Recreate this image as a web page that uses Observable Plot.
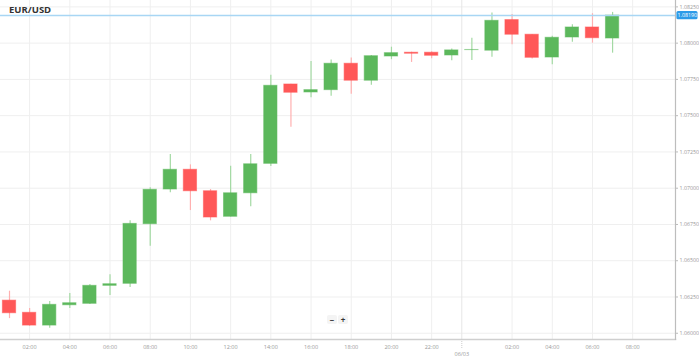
<!DOCTYPE html>
<html>
<head>
<meta charset="utf-8">
<script src="https://cdn.jsdelivr.net/npm/d3@7"></script>
<script src="https://cdn.jsdelivr.net/npm/@observablehq/plot@0.6"></script>
<style>
  html, body { margin: 0; padding: 0; background: #fff; }
  #wrap { position: relative; width: 699px; height: 357px; font-family: "Open Sans", "DejaVu Sans", sans-serif; }
  #title { position: absolute; left: 9px; top: 3px; font-size: 9.5px; font-weight: 700; color: #333; }
  #zoom { position: absolute; left: 327px; top: 315px; display: flex; gap: 1px; }
  #zoom div { width: 10px; height: 9px; background: #f4f4f4; border-radius: 2px; font-size: 8px; line-height: 9px; text-align: center; color: #333; font-weight: 700; }
  svg { display: block; }
</style>
</head>
<body>
<div id="wrap">
  <div id="chart"></div>
  <div id="title">EUR/USD</div>
  <div id="zoom"><div>−</div><div>+</div></div>
</div>
<script>
const times = [
  "2024-03-05T01:00","2024-03-05T02:00","2024-03-05T03:00","2024-03-05T04:00","2024-03-05T05:00",
  "2024-03-05T06:00","2024-03-05T07:00","2024-03-05T08:00","2024-03-05T09:00","2024-03-05T10:00",
  "2024-03-05T11:00","2024-03-05T12:00","2024-03-05T13:00","2024-03-05T14:00","2024-03-05T15:00",
  "2024-03-05T16:00","2024-03-05T17:00","2024-03-05T18:00","2024-03-05T19:00","2024-03-05T20:00",
  "2024-03-05T21:00","2024-03-05T22:00","2024-03-05T23:00","2024-03-06T00:00","2024-03-06T01:00",
  "2024-03-06T02:00","2024-03-06T03:00","2024-03-06T04:00","2024-03-06T05:00","2024-03-06T06:00",
  "2024-03-06T07:00"
];
const open  = [1.06225,1.06141,1.06053,1.06193,1.06203,1.06327,1.06341,1.06752,1.06991,1.07127,1.06979,1.06803,1.06965,1.07168,1.07715,1.07660,1.07676,1.07858,1.07741,1.07908,1.07934,1.07934,1.07915,1.07952,1.07948,1.08159,1.08058,1.07901,1.08039,1.08108,1.08032];
const high  = [1.06290,1.06170,1.06219,1.06274,1.06336,1.06403,1.06775,1.07003,1.07232,1.07161,1.06991,1.07152,1.07232,1.07779,1.07717,1.07874,1.07883,1.07897,1.07915,1.07972,1.07938,1.07941,1.07959,1.08034,1.08207,1.08198,1.08060,1.08048,1.08127,1.08203,1.08212];
const low   = [1.06101,1.06048,1.06034,1.06170,1.06198,1.06260,1.06315,1.06600,1.06968,1.06846,1.06775,1.06802,1.06872,1.07150,1.07421,1.07623,1.07634,1.07648,1.07710,1.07886,1.07867,1.07892,1.07879,1.07881,1.07903,1.07989,1.07890,1.07851,1.08007,1.08000,1.07931];
const close = [1.06138,1.06053,1.06196,1.06207,1.06327,1.06338,1.06754,1.06989,1.07127,1.06979,1.06798,1.06965,1.07165,1.07706,1.07658,1.07676,1.07858,1.07741,1.07910,1.07931,1.07927,1.07913,1.07950,1.07953,1.08154,1.08058,1.07899,1.08037,1.08108,1.08034,1.08190];

const yTicks = [1.06000,1.06250,1.06500,1.06750,1.07000,1.07250,1.07500,1.07750,1.08000,1.08250];
const xTicks = [
  "2024-03-05T02:00","2024-03-05T04:00","2024-03-05T06:00","2024-03-05T08:00","2024-03-05T10:00",
  "2024-03-05T12:00","2024-03-05T14:00","2024-03-05T16:00","2024-03-05T18:00","2024-03-05T20:00",
  "2024-03-05T22:00","2024-03-06T02:00","2024-03-06T04:00","2024-03-06T06:00","2024-03-06T08:00"
];
const daySep = "2024-03-05T23:30";
const dayLabel = "06/03";

const parse = s => new Date(s + ":00Z");
const data = times.map((t, i) => ({date: parse(t), open: open[i], high: high[i], low: low[i], close: close[i]}));
const last = close[close.length - 1];

const GREEN = "#5cb85c", RED = "#ff5858";
const GREEN_W = "#a3d9a3", RED_W = "#ffb0b0";
const H = 3600e3;
const base = parse("2024-03-05T00:00").getTime();
const half = 0.33 * H;
const pxPerUnit = 14500;

const chart = Plot.plot({
  width: 699,
  height: 357,
  marginLeft: 0,
  marginRight: 24,
  marginTop: 0,
  marginBottom: 18,
  style: {fontFamily: "'Open Sans', 'DejaVu Sans', sans-serif", background: "#fff", overflow: "visible"},
  x: {type: "utc", domain: [new Date(base + 0.552 * H), new Date(base + 34.13 * H)]},
  y: {domain: [1.05957, 1.08294]},
  marks: [
    Plot.gridY(yTicks, {stroke: "#efefef", strokeOpacity: 1}),
    Plot.gridX(xTicks.map(parse), {stroke: "#efefef", strokeOpacity: 1}),
    Plot.gridX([parse(daySep)], {stroke: "#e6e6e6", strokeOpacity: 1}),
    Plot.ruleX(data, {x: "date", y1: "low", y2: "high", stroke: d => d.close >= d.open ? GREEN_W : RED_W, strokeWidth: 1.2}),
    Plot.rect(data, {
      x1: d => new Date(+d.date - half), x2: d => new Date(+d.date + half),
      y1: "open", y2: "close",
      fill: d => d.close >= d.open ? GREEN : RED,
      stroke: d => d.close >= d.open ? GREEN : RED,
      strokeOpacity: 0.55, strokeWidth: 1
    }),
    Plot.ruleY([last], {stroke: "#a8d6f4", strokeWidth: 1.5}),
    Plot.frame({anchor: "bottom", stroke: "#cfcfcf", strokeWidth: 1.5}),
    Plot.frame({anchor: "right", stroke: "#bdbdbd", strokeWidth: 1.2}),
    Plot.axisY(yTicks, {anchor: "right", tickSize: 2, tickPadding: 2, tickFormat: d3.format(".5f"), fontSize: 5.3, fill: "#999", stroke: "#bbb"}),
    Plot.rect([last], {
      x1: () => new Date(base + 34.2 * H), x2: () => new Date(base + 35.25 * H),
      y1: d => d - 4.2 / pxPerUnit, y2: d => d + 4.2 / pxPerUnit,
      fill: "#2d9be8", rx: 1.5
    }),
    Plot.text([last], {
      x: () => new Date(base + 34.72 * H), y: d => d,
      text: d => d3.format(".5f")(d), fill: "white", fontSize: 5.3
    }),
    Plot.axisX(xTicks.map(parse), {tickSize: 0, tickPadding: 6, tickFormat: d3.utcFormat("%H:%M"), fontSize: 5.5, fill: "#999"}),
    Plot.axisX([parse(daySep)], {tickSize: 9, tickPadding: 4, tickFormat: () => dayLabel, fontSize: 5.5, fill: "#999", stroke: "#ccc", strokeDasharray: "1,1"})
  ]
});
document.getElementById("chart").appendChild(chart);
</script>
</body>
</html>
